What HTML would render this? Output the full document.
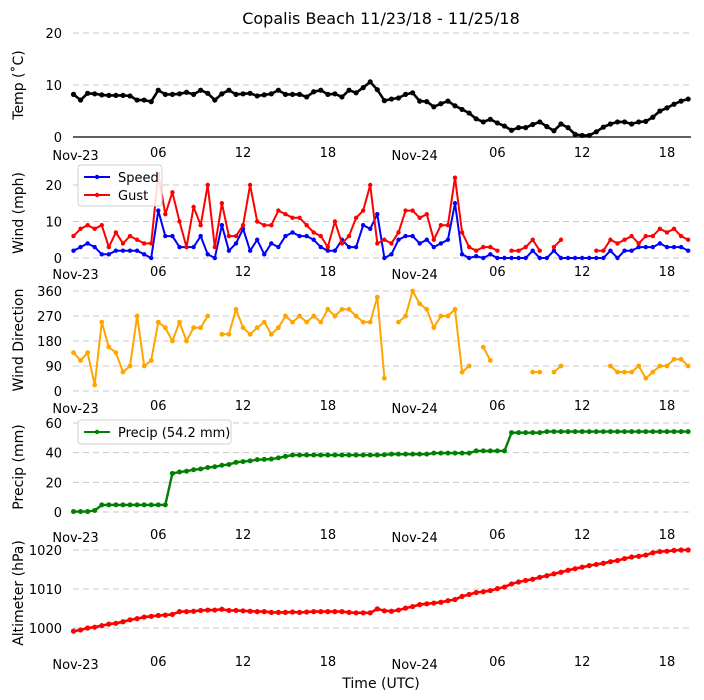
<!DOCTYPE html>
<html><head><meta charset="utf-8">
<style>
html,body{margin:0;padding:0;background:#fff;}
svg{display:block;font-family:"DejaVu Sans","Liberation Sans",sans-serif;}
</style></head>
<body>
<svg id="chart" width="704" height="700" viewBox="0 0 704 700" xmlns="http://www.w3.org/2000/svg">
<text x="381" y="24" font-size="16" text-anchor="middle">Copalis Beach 11/23/18 - 11/25/18</text>
<text x="381" y="688" font-size="14" text-anchor="middle">Time (UTC)</text>
</svg>
<script>
// half-hour samples starting Nov-23 00:00
const temp = [8.2,7.1,8.4,8.3,8.1,8,8,8,7.9,7.1,7.1,6.8,9.0,8.2,8.2,8.3,8.6,8.2,9.0,8.4,7.1,8.3,9.0,8.2,8.3,8.4,7.9,8.1,8.3,9.0,8.2,8.2,8.2,7.7,8.7,9.0,8.2,8.3,7.7,9.0,8.5,9.5,10.6,9.1,7.0,7.3,7.5,8.2,8.5,6.9,6.8,5.8,6.4,6.9,6.0,5.3,4.6,3.5,2.9,3.4,2.7,2.1,1.3,1.8,1.8,2.4,2.9,2.0,1.2,2.5,1.8,0.5,0.3,0.3,1.0,1.9,2.5,2.9,2.9,2.5,2.9,3.0,3.8,5.0,5.6,6.3,6.9,7.3];
const speed = [2,3,4,3,1,1,2,2,2,2,1,0,13,6,6,3,3,3,6,1,0,9,2,4,8,2,5,1,4,3,6,7,6,6,5,3,2,2,5,3,3,9,8,12,0,1,5,6,6,4,5,3,4,5,15,1,0,0.5,0,1,0,0,0,0,0,2,0,0,2,0,0,0,0,0,0,0,2,0,2,2,3,3,3,4,3,3,3,2];
const gust = [6,8,9,8,9,3,7,4,6,5,4,4,23,12,18,10,3,14,9,20,3,15,6,6,9,20,10,9,9,13,12,11,11,9,7,6,3,10,4,6,11,13,20,4,5,4,7,13,13,11,12,5,9,9,22,7,3,2,3,3,2,null,2,2,3,5,2,null,3,5,null,null,null,null,2,2,5,4,5,6,4,6,6,8,7,8,6,5];
const direction = [138,110,138,22,248,158,138,68,90,270,90,110,248,228,180,248,180,228,228,270,null,204,204,294,228,204,228,248,204,228,270,248,270,248,270,248,294,270,294,294,270,248,248,338,46,null,248,270,360,314,294,228,270,270,294,68,90,null,158,110,null,null,null,null,null,68,68,null,68,90,null,null,null,null,null,null,90,68,68,68,90,46,68,90,90,114,114,90];
const precip = [0.3,0.3,0.3,1,4.8,4.8,4.8,4.8,4.8,4.8,4.8,4.8,4.8,4.8,26,27,27.5,28.5,29,30,30.5,31.5,32,33.5,34,34.5,35.3,35.5,35.7,36.5,37.5,38.4,38.4,38.4,38.4,38.4,38.4,38.4,38.4,38.4,38.4,38.4,38.4,38.4,38.6,39,39,39,39,39,39,39.7,39.7,39.7,39.7,39.7,39.7,41.2,41.2,41.2,41.2,41.2,53.5,53.5,53.5,53.5,53.5,54.2,54.2,54.2,54.2,54.2,54.2,54.2,54.2,54.2,54.2,54.2,54.2,54.2,54.2,54.2,54.2,54.2,54.2,54.2,54.2,54.2];
const altimeter = [999.2,999.5,1000,1000.2,1000.6,1001,1001.2,1001.6,1002.1,1002.4,1002.8,1003,1003.2,1003.3,1003.5,1004.2,1004.2,1004.3,1004.5,1004.6,1004.6,1004.8,1004.5,1004.5,1004.4,1004.3,1004.2,1004.2,1004,1004,1004,1004.1,1004,1004.1,1004.2,1004.2,1004.2,1004.2,1004.2,1004,1003.9,1003.9,1003.9,1004.9,1004.4,1004.3,1004.6,1005.1,1005.5,1006,1006.2,1006.4,1006.6,1007,1007.3,1008.1,1008.6,1009.1,1009.3,1009.6,1010.1,1010.5,1011.3,1011.8,1012.2,1012.5,1013,1013.4,1013.9,1014.3,1014.8,1015.2,1015.6,1016,1016.3,1016.6,1017,1017.3,1017.8,1018.2,1018.4,1018.7,1019.3,1019.6,1019.7,1019.9,1020,1020];
const xTickHours = [0,6,12,18,24,30,36,42];
const xTickLabels = ["Nov-23","06","12","18","Nov-24","06","12","18"];
const tempTicks = [0,10,20];
const windTicks = [0,10,20];
const dirTicks = [0,90,180,270,360];
const precipTicks = [0,20,40,60];
const altTicks = [1000,1010,1020];

const NS = "http://www.w3.org/2000/svg";
const svg = document.getElementById('chart');
const X0 = 73.5, PXH = 14.13, XEND = 691;
function xH(h){ return X0 + h*PXH; }
function xI(i){ return xH(i*0.5); }
function mk(tag, attrs, parent){
  const e = document.createElementNS(NS, tag);
  for (const k in attrs) e.setAttribute(k, attrs[k]);
  (parent||svg).appendChild(e);
  return e;
}
const panels = [
  {key:'temp', data:[temp], colors:['#000'], ticks:tempTicks, y:v=>137-v*5.2, title:'Temp (˚C)', tc:85, lab:157, baseSolid:true, lw:2.6, r:2.6},
  {key:'wind', data:[speed,gust], colors:['#0000ff','#ff0000'], ticks:windTicks, y:v=>258-v*3.65, title:'Wind (mph)', tc:213, lab:276, lw:2, r:2.2},
  {key:'direction', data:[direction], colors:['#ffa500'], ticks:dirTicks, y:v=>391-v*100/360, title:'Wind Direction', tc:340, lab:410, lw:2, r:2.4},
  {key:'precip', data:[precip], colors:['#008000'], ticks:precipTicks, y:v=>512-v*1.483, title:'Precip (mm)', tc:467, lab:539, lw:2.4, r:2.5},
  {key:'altimeter', data:[altimeter], colors:['#ff0000'], ticks:altTicks, y:v=>628-(v-1000)*3.9, title:'Altimeter (hPa)', tc:593, lab:666, lw:2.6, r:2.6}
];
panels.forEach(p=>{
  const g = mk('g',{});
  
  
  p.ticks.forEach((t,k)=>{
    const yy = p.y(t);
    const solid = p.baseSolid && k===0;
    const ln = mk('line',{x1:73,x2:XEND,y1:yy,y2:yy,stroke:solid?'#000':'#c8c8c8','stroke-width':solid?1.2:1,'stroke-dasharray':solid?'none':'6 4'},g);
    
    
    const tx = mk('text',{x:62,y:yy+5,'font-size':13,'text-anchor':'end'},g);
    tx.textContent = t;
    
    
  });
  const at = mk('text',{x:0,y:0,'font-size':14,'text-anchor':'middle',transform:`translate(23,${p.tc}) rotate(-90)`},g);
  at.textContent = p.title;
  
  
  xTickHours.forEach((h,k)=>{
    const major = xTickLabels[k].startsWith('Nov');
    const tx = mk('text',{x:xH(h)+(major?2:0),y:p.lab+(major?3:0),'font-size':13,'text-anchor':'middle'},g);
    tx.textContent = xTickLabels[k];
    
    
  });
  p.data.forEach((arr,si)=>{
    const col = p.colors[si];
    let seg = [];
    const flush=()=>{
      if(seg.length>1){
        const pl = mk('polyline',{points:seg.join(' '),fill:'none',stroke:col,'stroke-width':p.lw,'stroke-linejoin':'round'},g);
        
        
      }
      seg=[];
    };
    arr.forEach((v,i)=>{
      if(v===null){flush();return;}
      seg.push(xI(i).toFixed(1)+','+p.y(v).toFixed(1));
    });
    flush();
    arr.forEach((v,i)=>{
      if(v===null) return;
      const c = mk('circle',{cx:xI(i),cy:p.y(v),r:p.r,fill:col},g);
      
      
    });
  });
});
// legends
function legend(x,y,w,h,items,name){
  const g = mk('g',{});
  
  
  mk('rect',{x:x,y:y,width:w,height:h,rx:3,fill:'#fff','fill-opacity':0.85,stroke:'#d0d0d0'},g);
  items.forEach((it,k)=>{
    const yy = y+12+k*18;
    mk('line',{x1:x+6,x2:x+32,y1:yy,y2:yy,stroke:it.c,'stroke-width':2},g);
    mk('circle',{cx:x+19,cy:yy,r:2.2,fill:it.c},g);
    const t = mk('text',{x:x+40,y:yy+5,'font-size':13},g);
    t.textContent = it.t;
    
    
  });
}
legend(78,165,84,41,[{c:'#0000ff',t:'Speed'},{c:'#ff0000',t:'Gust'}],'wind-legend');
legend(78,420,153,24,[{c:'#008000',t:'Precip (54.2 mm)'}],'precip-legend');
</script>
</body></html>
